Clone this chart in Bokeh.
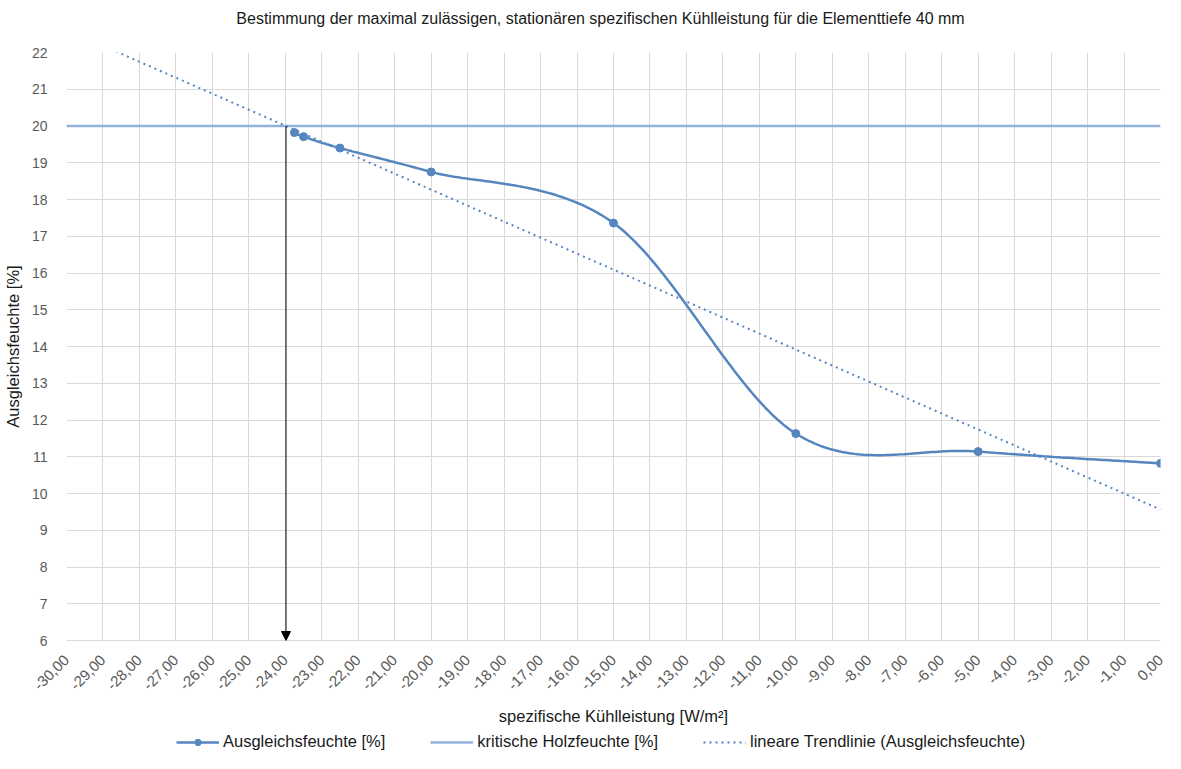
import numpy as np
from bokeh.plotting import figure
from bokeh.layouts import column
from bokeh.models import Range1d, FixedTicker, Legend, LegendItem, Arrow, NormalHead, Label
from bokeh.embed import file_html
from bokeh.resources import INLINE

# ---------------- data ----------------
title_text = "Bestimmung der maximal zulässigen, stationären spezifischen Kühlleistung für die Elementtiefe 40 mm"
x_label = "spezifische Kühlleistung [W/m²]"
y_label = "Ausgleichsfeuchte [%]"
series_name = "Ausgleichsfeuchte [%]"
crit_name = "kritische Holzfeuchte [%]"
trend_name = "lineare Trendlinie (Ausgleichsfeuchte)"

kuehlleistung = [-23.75, -23.5, -22.5, -20.0, -15.0, -10.0, -5.0, 0.0]
ausgleichsfeuchte = [19.82, 19.71, 19.40, 18.75, 17.36, 11.63, 11.14, 10.82]
kritische_holzfeuchte = 20.0

x_ticks = list(range(-30, 1))
x_tick_labels = [f"{t:.2f}".replace(".", ",") for t in x_ticks]
y_ticks = list(range(6, 23))

# ---------------- helpers ----------------
def excel_smooth(xs, ys, n=60):
    P = np.column_stack([xs, ys]).astype(float)
    segs = []
    t = np.linspace(0, 1, n)[:, None]
    for i in range(len(P) - 1):
        p0 = P[i - 1] if i > 0 else P[i]
        p1, p2 = P[i], P[i + 1]
        p3 = P[i + 2] if i + 2 < len(P) else P[i + 1]
        c1 = p1 + (p2 - p0) / 6.0
        c2 = p2 - (p3 - p1) / 6.0
        seg = (1 - t) ** 3 * p1 + 3 * (1 - t) ** 2 * t * c1 + 3 * (1 - t) * t ** 2 * c2 + t ** 3 * p2
        segs.append(seg if i == 0 else seg[1:])
    S = np.vstack(segs)
    return S[:, 0], S[:, 1]

sx, sy = excel_smooth(kuehlleistung, ausgleichsfeuchte)
slope, intercept = np.polyfit(kuehlleistung, ausgleichsfeuchte, 1)
trend_x = [x_ticks[0], x_ticks[-1]]
trend_y = [slope * v + intercept for v in trend_x]
x_cross = (kritische_holzfeuchte - intercept) / slope

# ---------------- styling ----------------
FONT = "Liberation Sans"
C_SERIES = "#5686BF"
C_CRIT = "#93B3DA"
C_GRID = "#D9D9D9"
C_TEXT = "#1A1A1A"
W = 1165
H_TITLE, H_MAIN, H_LEG = 36, 691, 26
FRAME_LEFT = 63


def blank_fig(h):
    f = figure(width=W, height=h, output_backend="svg", toolbar_location=None,
               x_range=Range1d(0, 1), y_range=Range1d(0, 1),
               x_axis_type=None, y_axis_type=None, min_border=0)
    f.outline_line_color = None
    f.grid.visible = False
    return f


# ---- title strip (frame is aligned with the main chart's frame) ----
ft = blank_fig(H_TITLE)
ft.add_layout(Label(x=597 - FRAME_LEFT, y=H_TITLE - 18, x_units="screen", y_units="screen",
                    text=title_text, text_align="center", text_baseline="middle",
                    text_font=FONT, text_font_size="16px", text_color=C_TEXT))

# ---- main chart ----
p = figure(width=W, height=H_MAIN, output_backend="svg", toolbar_location=None,
           x_range=Range1d(x_ticks[0], x_ticks[-1]), y_range=Range1d(y_ticks[0], y_ticks[-1]),
           min_border_left=FRAME_LEFT, min_border_right=5, min_border_top=16, min_border_bottom=82)
p.outline_line_color = None
p.background_fill_color = "white"
p.border_fill_color = "white"

p.xaxis.ticker = FixedTicker(ticks=x_ticks)
p.xaxis.major_label_overrides = {t: l for t, l in zip(x_ticks, x_tick_labels)}
p.xaxis.major_label_orientation = np.pi / 4
p.yaxis.ticker = FixedTicker(ticks=y_ticks)
for ax in (p.xaxis, p.yaxis):
    ax.major_tick_line_color = None
    ax.minor_tick_line_color = None
    ax.major_label_text_font = FONT
    ax.major_label_text_font_size = "14px"
    ax.major_label_text_color = "#595959"
    ax.axis_label_text_font = FONT
    ax.axis_label_text_font_size = "16.5px"
    ax.axis_label_text_font_style = "normal"
    ax.axis_label_text_color = C_TEXT
p.xaxis.major_label_text_font_size = "15px"
p.xaxis.axis_line_color = C_GRID
p.yaxis.axis_line_color = None
p.xaxis.axis_label = x_label
p.yaxis.axis_label = y_label
p.xaxis.major_label_standoff = 11
p.yaxis.major_label_standoff = 13
p.xaxis.axis_label_standoff = 9
p.yaxis.axis_label_standoff = 7

p.xgrid.ticker = FixedTicker(ticks=x_ticks)
p.ygrid.ticker = FixedTicker(ticks=y_ticks)
p.grid.grid_line_color = C_GRID
p.grid.grid_line_width = 1

r_crit = p.line(trend_x, [kritische_holzfeuchte] * 2, line_color=C_CRIT, line_width=2.5)
r_trend = p.line(trend_x, trend_y, line_color=C_SERIES, line_width=2, line_dash="2 4")
r_line = p.line(sx, sy, line_color=C_SERIES, line_width=2.5)
r_pts = p.scatter(kuehlleistung, ausgleichsfeuchte, size=8, fill_color=C_SERIES, line_color=C_SERIES)

p.add_layout(Arrow(end=NormalHead(size=9, fill_color="black", line_color="black", line_width=1),
                   x_start=x_cross, y_start=kritische_holzfeuchte, x_end=x_cross, y_end=y_ticks[0],
                   line_color="black", line_width=1))

# ---- legend strip: same series drawn again, but outside this strip's visible range ----
fl = blank_fig(H_LEG)
l_line = fl.line(sx, sy, line_color=C_SERIES, line_width=2.5)
l_pts = fl.scatter(kuehlleistung, ausgleichsfeuchte, size=8, fill_color=C_SERIES, line_color=C_SERIES)
l_crit = fl.line(trend_x, [kritische_holzfeuchte] * 2, line_color=C_CRIT, line_width=2.5)
l_trend = fl.line(trend_x, trend_y, line_color=C_SERIES, line_width=2, line_dash="2 4")
legend = Legend(items=[LegendItem(label=series_name, renderers=[l_line, l_pts]),
                       LegendItem(label=crit_name, renderers=[l_crit]),
                       LegendItem(label=trend_name, renderers=[l_trend])],
                location=(173 - FRAME_LEFT, 2), orientation="horizontal",
                border_line_color=None, background_fill_alpha=0,
                label_text_font=FONT, label_text_font_size="16.5px", label_text_color=C_TEXT,
                glyph_width=43, glyph_height=16, label_standoff=4, spacing=45,
                padding=0, margin=0)
fl.add_layout(legend)

open("out.html", "w").write(file_html(column(ft, p, fl, spacing=0), INLINE))
